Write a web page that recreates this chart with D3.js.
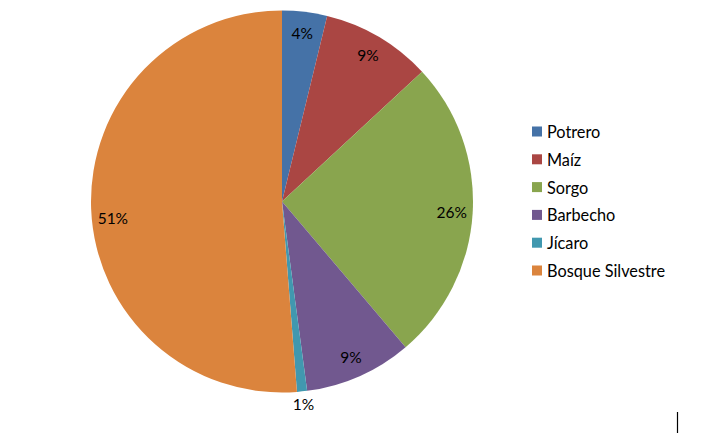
<!DOCTYPE html>
<html>
<head>
<meta charset="utf-8">
<script src="https://cdn.jsdelivr.net/npm/d3@7"></script>
<style>
  html, body { margin: 0; padding: 0; background: #fff; }
  svg { display: block; font-family: Lato, "Open Sans", sans-serif; }
</style>
</head>
<body>
<svg id="chart" width="725" height="440"></svg>
<script>
const categories = ["Potrero", "Maíz", "Sorgo", "Barbecho", "Jícaro", "Bosque Silvestre"];
const values = [3.8, 9.3, 25.7, 9.1, 0.85, 51.25];
const labels = ["4%", "9%", "26%", "9%", "1%", "51%"];
const colors = ["#4572A7", "#AA4643", "#89A54E", "#71588F", "#4198AF", "#DB843D"];

const svg = d3.select("#chart");
const cx = 282, cy = 201.5, r = 191;

const data = categories.map((c, i) => ({ name: c, value: values[i], label: labels[i], color: colors[i] }));

const pie = d3.pie().value(d => d.value).sort(null);
const arcs = pie(data);
const arc = d3.arc().innerRadius(0).outerRadius(r);
const labelArc = d3.arc().innerRadius(r * 0.89).outerRadius(r * 0.89);
const outerArc = d3.arc().innerRadius(r + 13).outerRadius(r + 13);

const g = svg.append("g").attr("transform", `translate(${cx},${cy})`);
g.selectAll("path.slice").data(arcs).enter().append("path")
  .attr("class", "slice")
  .attr("d", arc)
  .attr("fill", d => d.data.color);

g.selectAll("text.lbl").data(arcs).enter().append("text")
  .attr("class", "lbl")
  .attr("transform", d => {
    const small = (d.endAngle - d.startAngle) < 0.1;
    let a = (d.startAngle + d.endAngle) / 2;
    if (d.data.value > 50) a -= 0.06; // Excel best-fit nudge for the large slice
    const rr = small ? r + 13 : r * 0.89;
    return `translate(${rr * Math.sin(a)},${-rr * Math.cos(a)})`;
  })
  .attr("text-anchor", "middle")
  .attr("dominant-baseline", "central")
  .attr("font-size", 15.5)
  .attr("fill", "#000")
  .text(d => d.data.label);

// Legend
const legend = svg.append("g").attr("transform", "translate(532,131.5)");
const rowH = 27.8;
const items = legend.selectAll("g.item").data(data).enter().append("g")
  .attr("class", "item")
  .attr("transform", (d, i) => `translate(0,${i * rowH})`);
items.append("rect")
  .attr("x", 0).attr("y", -5).attr("width", 10).attr("height", 10)
  .attr("fill", d => d.color);
items.append("text")
  .attr("x", 15).attr("y", 0)
  .attr("dominant-baseline", "central")
  .attr("font-size", 16.3)
  .attr("fill", "#000")
  .text(d => d.name);

// small vertical mark at bottom right
svg.append("line")
  .attr("x1", 677.5).attr("x2", 677.5)
  .attr("y1", 412).attr("y2", 433)
  .attr("stroke", "#000").attr("stroke-width", 1.2);
</script>
</body>
</html>
